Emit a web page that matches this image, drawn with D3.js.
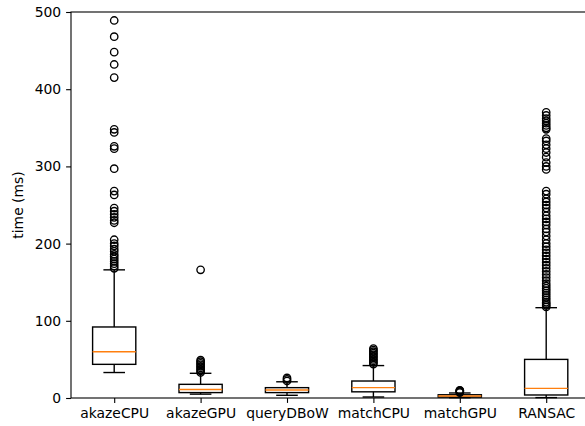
<!DOCTYPE html>
<html>
<head>
<meta charset="utf-8">
<script src="https://cdn.jsdelivr.net/npm/d3@7"></script>
<style>
	body{margin:0;background:#fff;}
	svg text{font-family:"DejaVu Sans",sans-serif;}
</style>
</head>
<body>
<svg width="585" height="426"></svg>
<script>
const categories = ["akazeCPU","akazeGPU","queryDBoW","matchCPU","matchGPU","RANSAC"];
const whiskerLow  = [33, 5, 3.5, 1.3, 0.4, 0.5];
const q1          = [43.6, 7, 7, 8, 1.2, 3.9];
const medians     = [60, 11, 10.4, 13.4, 2.5, 12.5];
const q3          = [92, 17.7, 13.4, 22, 4.2, 50];
const whiskerHigh = [166, 32, 21, 42, 6.5, 117];
const outliers = [
	[489,468,448,432,415,348,344,326,323,297,268,263,246,242,238,234,230,227,
	 205,200,197,193,190,186,183,180,177,174,171,168],
	[166,33,35,37,39,41,43,45,47,49],
	[22,24,26],
	[44,46,48,50,52,54,56,58,60,62,64],
	[7,8,9,9.5,10],
	[370,366,362,359,356,353,350,348,336,333,328,323,318,312,305,300,296,
	 268,264,258,254,250,246,241,236,232,228,224,219,215,210,205,200,196,192,
	 188,184,180,176,172,168,164,160,156,152,148,145,142,139,136,133,130,127,
	 124,122,120,118]
];
const yTicks = [0,100,200,300,400,500];

let margin = {top: 12, left: 71, bottom: 398, right: 589.4};
let svg = d3.select("svg");

let x = d3.scaleLinear().domain([0.5, 6.5]).range([margin.left, margin.right]);
let y = d3.scaleLinear().domain([0, 500]).range([margin.bottom, margin.top]);
let boxW = x(1.25) - x(1);

let boxes = svg.append("g")
	.selectAll("g")
	.data(categories)
	.join("g")
	.attr("transform", (d,i) => `translate(${x(i+1)},0)`);

// whiskers
boxes.append("line")
	.attr("y1", (d,i) => y(q1[i])).attr("y2", (d,i) => y(whiskerLow[i]))
	.attr("stroke","#000").attr("stroke-width",1.4);
boxes.append("line")
	.attr("y1", (d,i) => y(q3[i])).attr("y2", (d,i) => y(whiskerHigh[i]))
	.attr("stroke","#000").attr("stroke-width",1.4);
// caps
[whiskerLow, whiskerHigh].forEach(w => {
	boxes.append("line")
		.attr("x1", -boxW/2).attr("x2", boxW/2)
		.attr("y1", (d,i) => y(w[i])).attr("y2", (d,i) => y(w[i]))
		.attr("stroke","#000").attr("stroke-width",1.4);
});
// box
boxes.append("rect")
	.attr("x", -boxW).attr("width", boxW*2)
	.attr("y", (d,i) => y(q3[i]))
	.attr("height", (d,i) => y(q1[i]) - y(q3[i]))
	.attr("fill","none").attr("stroke","#000").attr("stroke-width",1.4);
// median
boxes.append("line")
	.attr("x1", -boxW).attr("x2", boxW)
	.attr("y1", (d,i) => y(medians[i])).attr("y2", (d,i) => y(medians[i]))
	.attr("stroke","#ff7f0e").attr("stroke-width",1.4);
// fliers
boxes.selectAll("circle")
	.data((d,i) => outliers[i])
	.join("circle")
	.attr("cy", d => y(d))
	.attr("r", 3.7)
	.attr("fill","none").attr("stroke","#000").attr("stroke-width",1.35);

// frame
svg.append("rect")
	.attr("x", margin.left).attr("y", margin.top)
	.attr("width", margin.right - margin.left)
	.attr("height", margin.bottom - margin.top)
	.attr("fill","none").attr("stroke","#000").attr("stroke-width",1.1);

let yAxis = svg.append("g")
	.attr("transform", `translate(${margin.left},0)`)
	.call(d3.axisLeft(y).tickValues(yTicks).tickSize(4.9).tickPadding(4.9).tickSizeOuter(0));
let xAxis = svg.append("g")
	.attr("transform", `translate(0,${margin.bottom})`)
	.call(d3.axisBottom(x).tickValues(d3.range(1, categories.length+1))
		.tickFormat(d => categories[d-1]).tickSize(4.9).tickPadding(4.9).tickSizeOuter(0));
[xAxis, yAxis].forEach(a => {
	a.select(".domain").remove();
	a.selectAll("line").attr("stroke","#000").attr("stroke-width",1.1);
	a.selectAll("text").attr("font-size","13.9px").attr("fill","#000")
		.attr("font-family","DejaVu Sans");
});

svg.append("text")
	.attr("transform", `translate(23,${(margin.top+margin.bottom)/2}) rotate(-90)`)
	.attr("text-anchor","middle")
	.attr("font-size","13.9px")
	.text("time (ms)");
</script>
</body>
</html>
